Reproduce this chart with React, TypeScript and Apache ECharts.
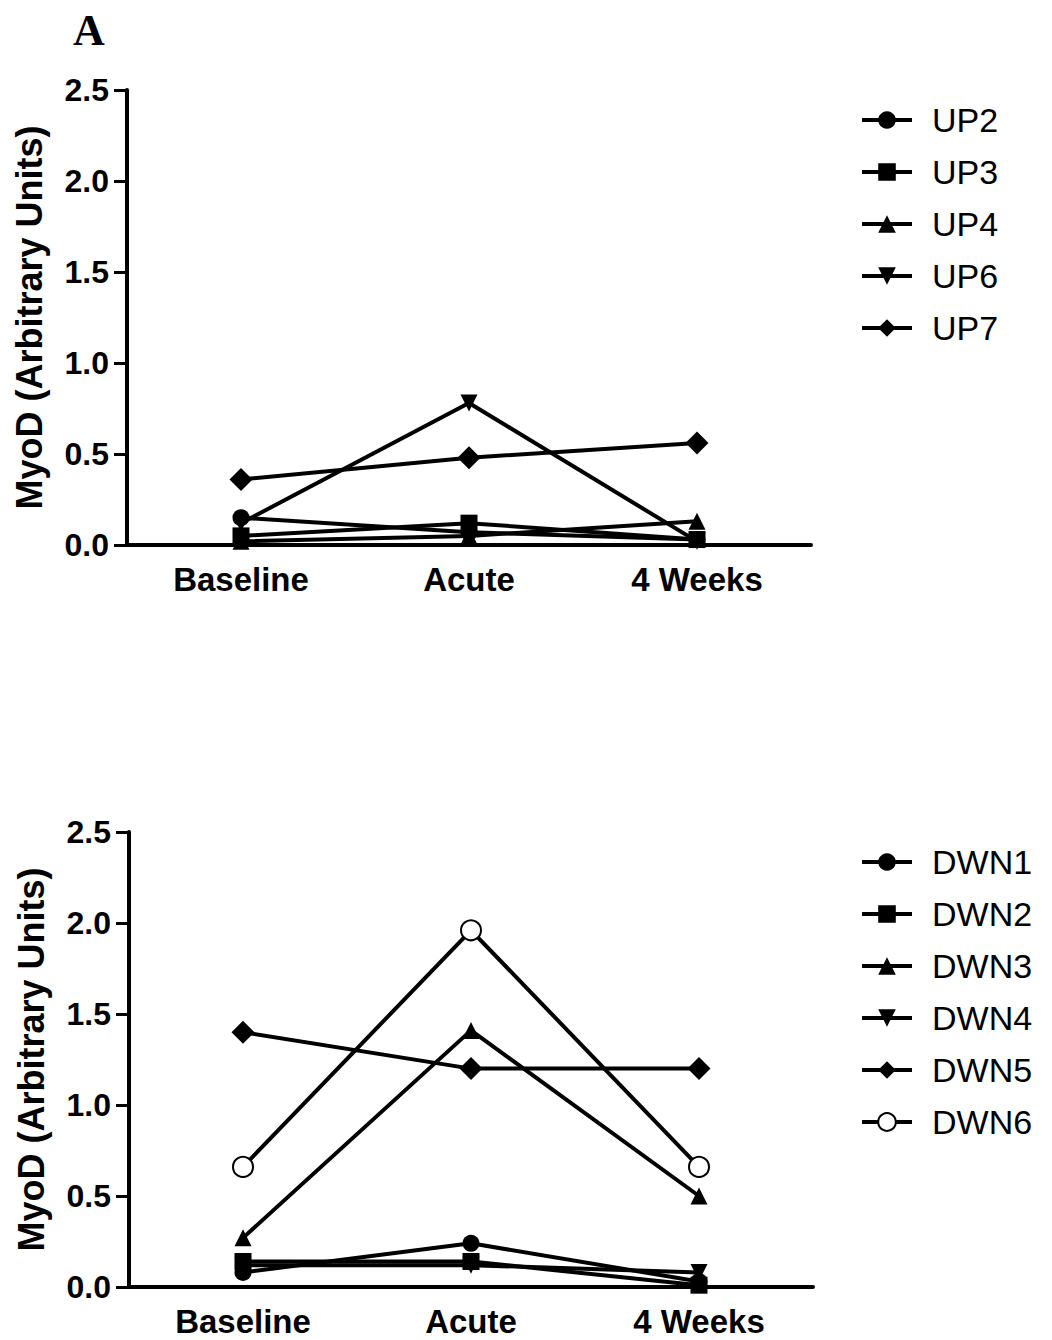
import React, { useEffect, useRef } from "react";
import * as echarts from "echarts";

const categories = ["Baseline", "Acute", "4 Weeks"];
const yTicks = [0, 0.5, 1.0, 1.5, 2.0, 2.5];

const upNames = ["UP2", "UP3", "UP4", "UP6", "UP7"];
const UP2 = [0.15, 0.07, 0.03];
const UP3 = [0.05, 0.12, 0.03];
const UP4 = [0.02, 0.05, 0.13];
const UP6 = [0.12, 0.78, 0.02];
const UP7 = [0.36, 0.48, 0.56];
const upValues = [UP2, UP3, UP4, UP6, UP7];

const dwnNames = ["DWN1", "DWN2", "DWN3", "DWN4", "DWN5", "DWN6"];
const DWN1 = [0.08, 0.24, 0.03];
const DWN2 = [0.14, 0.14, 0.01];
const DWN3 = [0.27, 1.41, 0.5];
const DWN4 = [0.12, 0.12, 0.08];
const DWN5 = [1.4, 1.2, 1.2];
const DWN6 = [0.66, 1.96, 0.66];
const dwnValues = [DWN1, DWN2, DWN3, DWN4, DWN5, DWN6];

const DOWN_TRI = "path://M0,0 L10,0 L5,9 Z";
const UP_TRI = "path://M5,0 L10,9 L0,9 Z";
const upSymbols = ["circle", "rect", UP_TRI, DOWN_TRI, "diamond"];
const dwnSymbols = ["circle", "rect", UP_TRI, DOWN_TRI, "diamond", "emptyCircle"];

const FONT = "Liberation Sans";

export default function App() {
  const ref = useRef<HTMLDivElement>(null);
  useEffect(() => {
    if (!ref.current) return;
    const chart = echarts.init(ref.current, undefined, { renderer: "svg" });

    const makeX = (gridIndex: number) => ({
      type: "category",
      gridIndex,
      data: categories,
      boundaryGap: true,
      axisLine: { lineStyle: { color: "#000", width: 4 } },
      axisTick: { alignWithLabel: true, length: 12, lineStyle: { color: "#000", width: 3 } },
      axisLabel: { color: "#000", fontFamily: FONT, fontWeight: "bold", fontSize: 33, margin: 18 },
      splitLine: { show: false },
    });
    const makeY = (gridIndex: number) => ({
      type: "value",
      gridIndex,
      min: yTicks[0],
      max: yTicks[yTicks.length - 1],
      interval: 0.5,
      name: "MyoD (Arbitrary Units)",
      nameLocation: "middle",
      nameRotate: 90,
      nameGap: 80,
      nameTextStyle: { color: "#000", fontFamily: FONT, fontWeight: "bold", fontSize: 36 },
      axisLine: { show: true, lineStyle: { color: "#000", width: 4 } },
      axisTick: { show: true, length: 13, lineStyle: { color: "#000", width: 3 } },
      axisLabel: {
        color: "#000",
        fontFamily: FONT,
        fontWeight: "bold",
        fontSize: 32,
        margin: 18,
        formatter: (v: number) => v.toFixed(1),
      },
      splitLine: { show: false },
    });

    const mkSeries = (names: string[], vals: number[][], syms: string[], idx: number) =>
      names.map((n, i) => ({
        name: n,
        type: "line",
        xAxisIndex: idx,
        yAxisIndex: idx,
        data: vals[i],
        symbol: syms[i],
        symbolSize: syms[i] === "diamond" ? 23 : syms[i] === "emptyCircle" ? 20 : 17,
        showSymbol: true,
        lineStyle: { color: "#000", width: 4 },
        itemStyle: {
          color: "#000",
          borderColor: "#000",
          borderWidth: syms[i] === "emptyCircle" ? 5 : 0,
        },
      }));

    const legendBase = {
      orient: "vertical",
      left: 855,
      itemWidth: 50,
      itemHeight: 22,
      itemGap: 18,
      lineStyle: { width: 4 },
      textStyle: { color: "#000", fontFamily: FONT, fontSize: 34, lineHeight: 34, padding: [0, 0, 0, 15] },
    };

    chart.setOption({
      animation: false,
      backgroundColor: "#fff",
      graphic: [
        {
          type: "text",
          left: 73,
          top: 8,
          style: { text: "A", font: "bold 44px 'Liberation Serif'", fill: "#000" },
        },
      ],
      grid: [
        { left: 127, top: 90, width: 684, height: 455 },
        { left: 129, top: 832, width: 684, height: 455 },
      ],
      xAxis: [makeX(0), makeX(1)],
      yAxis: [makeY(0), makeY(1)],
      legend: [
        { ...legendBase, top: 98, data: upNames },
        { ...legendBase, top: 840, data: dwnNames },
      ],
      series: [...mkSeries(upNames, upValues, upSymbols, 0), ...mkSeries(dwnNames, dwnValues, dwnSymbols, 1)],
    });
    return () => chart.dispose();
  }, []);
  return (
    <div
      ref={ref}
      style={{ position: "absolute", left: 0, top: 0, width: 1052, height: 1340, background: "#fff" }}
    />
  );
}
